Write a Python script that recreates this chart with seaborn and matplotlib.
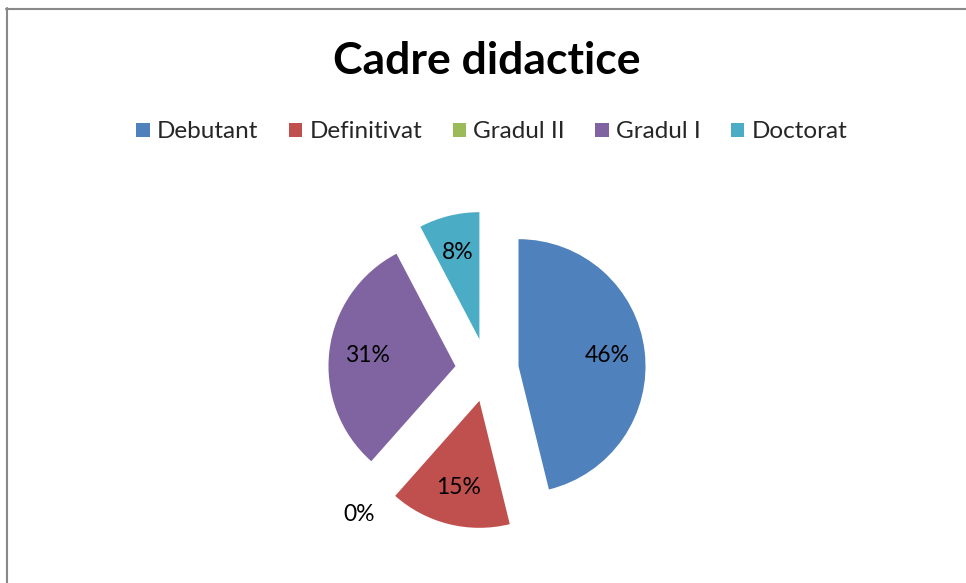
"""
Pie chart: Cadre didactice (teaching staff by degree)
"""
import matplotlib
matplotlib.use("Agg")
import matplotlib.pyplot as plt
from matplotlib.patches import Patch
from matplotlib.lines import Line2D
import seaborn as sns

# Data
categories = ['Debutant', 'Definitivat', 'Gradul II', 'Gradul I', 'Doctorat']
counts = [6, 2, 0, 4, 1]
colors = ['#4F81BD', '#C0504D', '#9BBB59', '#8064A2', '#4BACC6']
title = 'Cadre didactice'

sns.set_theme(style='white')
plt.rcParams['font.family'] = ['Lato', 'DejaVu Sans']

W, H = 966, 583
fig = plt.figure(figsize=(W / 100, H / 100), dpi=100)
fig.patch.set_facecolor('white')

# Pie axes: centre at (487, 370) px, radius 127 px
cx, cy, r = 487, 370, 127
aw, ah = 600, 400
ax = fig.add_axes([(cx - aw / 2) / W, (H - cy - ah / 2) / H, aw / W, ah / H])

zero_labels = ['0%' if c == 0 else '' for c in counts]

wedges, texts, autotexts = ax.pie(
    counts,
    labels=zero_labels,
    colors=colors,
    startangle=90,
    counterclock=False,
    explode=[0.25] * len(counts),
    autopct=lambda p: f'{p:.0f}%' if p > 0 else '',
    pctdistance=0.7,
    labeldistance=1.27,
    textprops={'fontsize': 16.5, 'color': 'black'},
    wedgeprops={'linewidth': 0},
)
for t in texts:
    t.set_horizontalalignment('center')
    t.set_verticalalignment('center')

ax.set_xlim(-aw / 2 / r, aw / 2 / r)
ax.set_ylim(-ah / 2 / r, ah / 2 / r)
ax.axis('off')

# Title
fig.text(487 / W, 1 - 61 / H, title, ha='center', va='center',
         fontsize=32, fontweight='bold', color='black')

# Legend
handles = [Patch(facecolor=c, edgecolor='none', label=l) for c, l in zip(colors, categories)]
fig.legend(handles=handles, loc='center', bbox_to_anchor=(492 / W, 1 - 132 / H),
           ncol=5, frameon=False, fontsize=17.5, handlelength=0.55, handleheight=0.55,
           handletextpad=0.3, columnspacing=1.25)

# Chart border (only top and left edges visible)
fig.add_artist(Line2D([6 / W, 1], [1 - 9 / H, 1 - 9 / H], color='#898989', lw=1.5,
                      transform=fig.transFigure))
fig.add_artist(Line2D([7 / W, 7 / W], [0, 1 - 8 / H], color='#898989', lw=1.5,
                      transform=fig.transFigure))

fig.savefig('out.png', dpi=100, facecolor='white')
